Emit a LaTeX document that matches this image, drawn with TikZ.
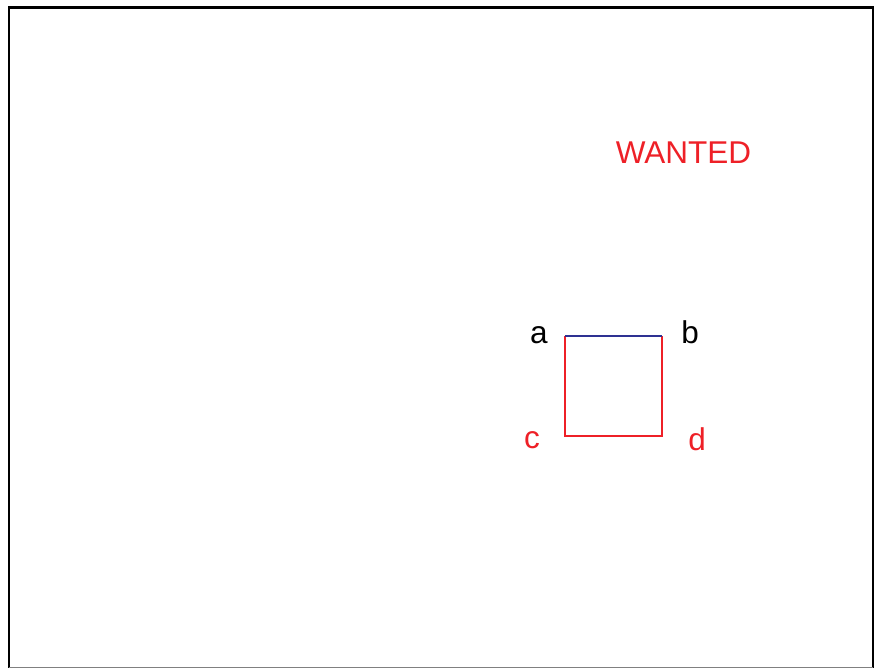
\documentclass[tikz,border=0pt]{standalone}
\usepackage{fontspec}
\setmainfont{Liberation Sans}
\definecolor{rred}{HTML}{EE2027}
\definecolor{nblue}{HTML}{2E3192}
\begin{document}
\begin{tikzpicture}[x=1pt,y=-1pt,
  lbl/.style={font=\fontsize{31.5}{33}\selectfont, inner sep=0pt, anchor=base},
  edge/.style={line width=2.2pt}]
\useasboundingbox (0,0) rectangle (877,668);
\draw[line width=2.5pt] (9,668) -- (9,7.5) -- (873,7.5) -- (873,668);
\draw[line width=1pt, gray] (9,667.5) -- (873,667.5);
\coordinate (A) at (565,336);
\coordinate (B) at (662,336);
\coordinate (C) at (565,436);
\coordinate (D) at (662,436);
\draw[edge, rred] (A) -- (C) -- (D) -- (B);
\draw[edge, nblue] (A) -- (B);
\node[lbl] (la) at (539,343) {a};
\node[lbl] (lb) at (690,343) {b};
\node[lbl, text=rred] (lc) at (532,448) {c};
\node[lbl, text=rred] (ld) at (697,450) {d};
\node[lbl, text=rred] (w) at (683.5,164) {WANTED};
\end{tikzpicture}
\end{document}
